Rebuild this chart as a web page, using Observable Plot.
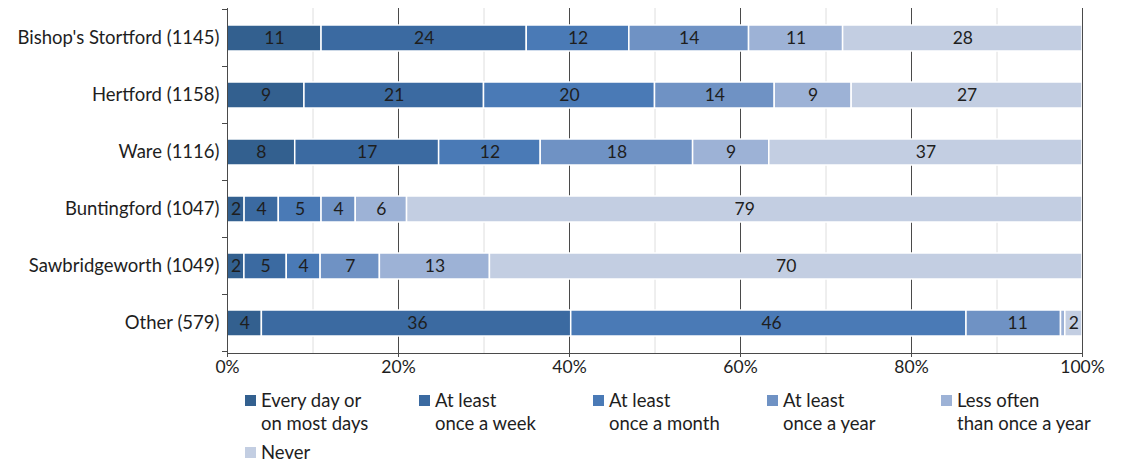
<!DOCTYPE html>
<html>
<head>
<meta charset="utf-8">
<script src="https://cdn.jsdelivr.net/npm/d3@7"></script>
<script src="https://cdn.jsdelivr.net/npm/@observablehq/plot@0.6"></script>
<style>
  body { margin: 0; background: #fff; font-family: Lato, "Open Sans", sans-serif; color: #1e1e1e; }
  #wrap { position: relative; width: 1124px; }
  #legend { position: relative; width: 1124px; height: 86px; font-size: 18.5px; line-height: 23px; color: #1e1e1e; }
  .item { position: absolute; display: flex; align-items: flex-start; }
  .sw { width: 11px; height: 11px; margin-top: 6px; margin-right: 5px; flex: none; }
</style>
</head>
<body>
<div id="wrap"></div>
<div id="legend"></div>
<script>
const towns = ["Bishop's Stortford (1145)", "Hertford (1158)", "Ware (1116)", "Buntingford (1047)", "Sawbridgeworth (1049)", "Other (579)"];
const frequencies = ["Every day or on most days", "At least once a week", "At least once a month", "At least once a year", "Less often than once a year", "Never"];
const legendLines = [["Every day or", "on most days"], ["At least", "once a week"], ["At least", "once a month"], ["At least", "once a year"], ["Less often", "than once a year"], ["Never"]];
const everyDay  = [11, 9, 8, 2, 2, 4];
const weekly    = [24, 21, 17, 4, 5, 36];
const monthly   = [12, 20, 12, 5, 4, 46];
const yearly    = [14, 14, 18, 4, 7, 11];
const lessOften = [11, 9, 9, 6, 13, 0.5];
const never     = [28, 27, 37, 79, 70, 2];
const colors = ["#33608f", "#3b6aa1", "#4a7ab6", "#6f92c4", "#9db2d6", "#c3cee2"];
const xTicks = [0, 0.2, 0.4, 0.6, 0.8, 1];
const minorTicks = [0.1, 0.3, 0.5, 0.7, 0.9];

const series = [everyDay, weekly, monthly, yearly, lessOften, never];
const data = [];
towns.forEach((t, i) => series.forEach((s, j) => data.push({town: t, freq: frequencies[j], value: s[i]})));

const stackOpts = {x: "value", y: "town", z: "freq", offset: "normalize", order: frequencies};

const chart = Plot.plot({
  width: 1124,
  height: 380,
  marginTop: 8,
  marginBottom: 27,
  marginLeft: 227,
  marginRight: 42,
  style: {fontFamily: "Lato, 'Open Sans', sans-serif", color: "#1e1e1e", background: "#fff"},
  x: {domain: [0, 1], ticks: xTicks, tickFormat: d3.format(".0%")},
  y: {domain: towns, paddingInner: 0.547, paddingOuter: 0.2735},
  color: {domain: frequencies, range: colors},
  marks: [
    Plot.ruleX(minorTicks, {stroke: "#dedede", strokeWidth: 1}),
    Plot.ruleX(xTicks.slice(1, -1), {stroke: "#4a4a4a", strokeWidth: 1}),
    Plot.barX(data, Plot.stackX({...stackOpts, fill: "freq", stroke: "#fff", strokeWidth: 1.5})),
    Plot.text(data.filter(d => d.value >= 1), Plot.stackX({...stackOpts, text: d => String(Math.round(d.value)), fill: "#1e1e1e", fontSize: 17.5})),
    Plot.ruleX([0, 1], {stroke: "#4a4a4a", strokeWidth: 1}),
    Plot.frame({anchor: "bottom", stroke: "#4a4a4a"}),
    Plot.axisX({ticks: xTicks, tickFormat: d3.format(".0%"), tickSize: 4, tickPadding: 3, fontSize: 17.5, stroke: "#4a4a4a", label: null}),
    Plot.axisY({tickSize: 0, tickPadding: 8, fontSize: 18.5, label: null})
  ]
});

document.getElementById("wrap").appendChild(chart);

// small category-boundary ticks on the left axis, from the y scale
const ys = chart.scale("y");
const x0 = chart.scale("x").apply(0);
const gap = (ys.step - ys.bandwidth) / 2;
const bounds = towns.map(t => ys.apply(t) - gap).concat([ys.apply(towns[towns.length - 1]) + ys.bandwidth + gap]);
d3.select(chart).append("g").selectAll("line").data(bounds).join("line")
  .attr("x1", x0 - 5).attr("x2", x0).attr("y1", d => d).attr("y2", d => d)
  .attr("stroke", "#4a4a4a");

// legend
const legend = document.getElementById("legend");
legendLines.forEach((lines, i) => {
  const el = document.createElement("div");
  el.className = "item";
  const col = i % 5, row = Math.floor(i / 5);
  el.style.left = (245 + col * 174) + "px";
  el.style.top = (9 + row * 52) + "px";
  const sw = document.createElement("div");
  sw.className = "sw";
  sw.style.background = colors[i];
  const tx = document.createElement("div");
  tx.innerHTML = lines.join("<br>");
  el.appendChild(sw); el.appendChild(tx);
  legend.appendChild(el);
});
</script>
</body>
</html>
